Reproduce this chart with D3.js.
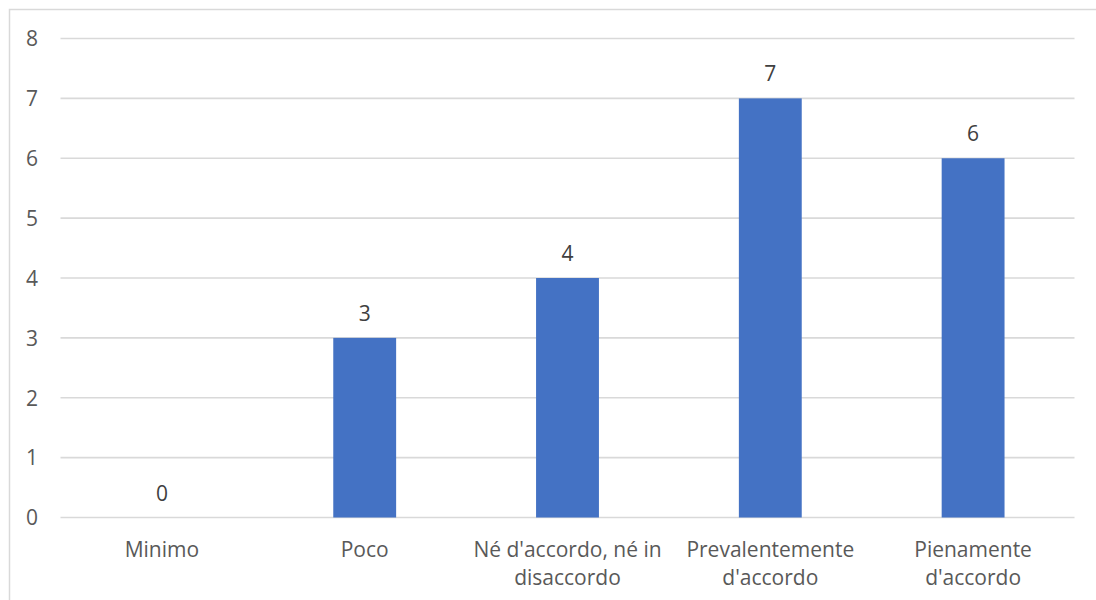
<!DOCTYPE html>
<html>
<head>
<meta charset="utf-8">
<script src="https://cdn.jsdelivr.net/npm/d3@7"></script>
<style>
  html, body { margin: 0; padding: 0; background: #fff; }
  svg { display: block; }
  text { font-family: "Open Sans", "Noto Sans", sans-serif; }
</style>
</head>
<body>
<svg id="chart" width="1096" height="600"></svg>
<script>
// Survey answers: count of responses per agreement level
const categories = [
  ["Minimo"],
  ["Poco"],
  ["Né d'accordo, né in", "disaccordo"],
  ["Prevalentemente", "d'accordo"],
  ["Pienamente", "d'accordo"]
];
const values = [0, 3, 4, 7, 6];
const yTicks = [0, 1, 2, 3, 4, 5, 6, 7, 8];

const svg = d3.select("#chart");
const W = 1096, H = 600;
const plot = { left: 60.5, right: 1074.5, top: 38.5, bottom: 517.5 };

// outer frame (its right and bottom edges fall outside the view)
svg.append("rect")
  .attr("x", 9.5).attr("y", 9.5)
  .attr("width", W + 20).attr("height", H + 20)
  .attr("fill", "#fff").attr("stroke", "#d9d9d9").attr("stroke-width", 1.5);

const keys = categories.map((c, i) => i);
const x = d3.scaleBand().domain(keys).range([plot.left, plot.right]).paddingInner(0.69).paddingOuter(0.345);
const y = d3.scaleLinear().domain([0, 8]).range([plot.bottom, plot.top]);

// horizontal grid lines
svg.append("g")
  .selectAll("line").data(yTicks).join("line")
  .attr("x1", plot.left).attr("x2", plot.right)
  .attr("y1", d => y(d)).attr("y2", d => y(d))
  .attr("stroke", "#d9d9d9").attr("stroke-width", 1.6);

// y axis labels
const yAxis = d3.axisLeft(y).tickValues(yTicks).tickSize(0).tickPadding(0).tickFormat(d3.format("d"));
const gy = svg.append("g").attr("transform", "translate(38,0)").call(yAxis);
gy.select(".domain").remove();
gy.selectAll("text")
  .attr("fill", "#595959").attr("font-size", 21).attr("dy", "0.35em")
  .style("font-family", "'Open Sans', sans-serif");

// bars
svg.append("g")
  .selectAll("rect").data(values).join("rect")
  .attr("x", (d, i) => x(i))
  .attr("y", d => y(d))
  .attr("width", x.bandwidth())
  .attr("height", d => y(0) - y(d))
  .attr("fill", "#4472c4");

// value labels
svg.append("g")
  .selectAll("text").data(values).join("text")
  .attr("x", (d, i) => x(i) + x.bandwidth() / 2)
  .attr("y", d => y(d) - 17)
  .attr("text-anchor", "middle")
  .attr("font-size", 21)
  .attr("fill", "#404040")
  .text(d => d);

// category labels, wrapped on two lines where needed
const xl = svg.append("g");
categories.forEach((lines, i) => {
  const cx = x(i) + x.bandwidth() / 2;
  const t = xl.append("text")
    .attr("x", cx).attr("y", 556.5)
    .attr("text-anchor", "middle")
    .attr("font-size", 21)
    .attr("fill", "#595959");
  lines.forEach((ln, j) => {
    t.append("tspan").attr("x", cx).attr("dy", j === 0 ? 0 : 28.5).text(ln);
  });
});
</script>
</body>
</html>
